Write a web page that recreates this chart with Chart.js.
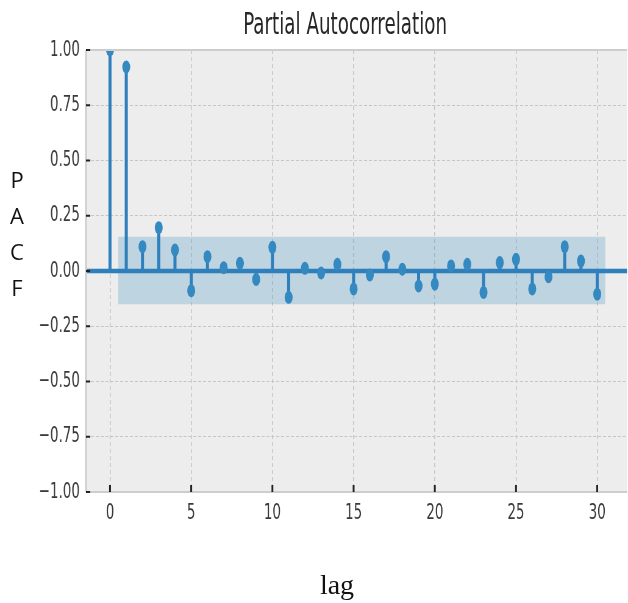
<!DOCTYPE html>
<html>
<head>
<meta charset="utf-8">
<script src="https://cdn.jsdelivr.net/npm/chart.js@4.4.0/dist/chart.umd.min.js"></script>
<style>
  html, body { margin: 0; padding: 0; background: #fff; }
  body { width: 628px; height: 603px; position: relative; overflow: hidden; }
  /* the source picture is squeezed sideways, so the plot is drawn wide and scaled */
  #wrap { position: absolute; left: 0; top: 0; width: 1035px; height: 603px;
          transform: scaleX(0.6097); transform-origin: 0 0; }
  #title { position: absolute; top: 6px; left: 0; width: 1132px; text-align: center;
           font: 30px "DejaVu Sans"; line-height: 36px; color: #262626; }
  #ylab { position: absolute; left: 6px; top: 161px; width: 22px; text-align: center;
          font: 22px "Open Sans"; line-height: 36px; color: #111; }
  #xlab { position: absolute; left: 0; top: 569px; width: 674px; text-align: center;
          font: 28px "Liberation Serif"; line-height: 32px; color: #111; }
</style>
</head>
<body>
<div id="wrap">
  <div id="title">Partial Autocorrelation</div>
  <canvas id="c" width="1035" height="603"></canvas>
</div>
<div id="ylab">P<br>A<br>C<br>F</div>
<div id="xlab">lag</div>
<script>
var lags = [0, 1, 2, 3, 4, 5, 6, 7, 8, 9, 10, 11, 12, 13, 14, 15, 16, 17, 18, 19, 20, 21, 22, 23, 24, 25, 26, 27, 28, 29, 30];
var pacf = [1.00, 0.923, 0.11, 0.196, 0.095, -0.089, 0.065, 0.015, 0.035, -0.038, 0.107,
            -0.119, 0.012, -0.009, 0.03, -0.081, -0.018, 0.065, 0.008, -0.068, -0.059,
            0.023, 0.03, -0.097, 0.038, 0.053, -0.081, -0.026, 0.11, 0.045, -0.105];
var bandLags = [0.5, 30.5];
var bandUpper = [0.155, 0.155];
var bandLower = [-0.15, -0.15];
var xTicks = [0, 5, 10, 15, 20, 25, 30];
var yTicks = [-1, -0.75, -0.5, -0.25, 0, 0.25, 0.5, 0.75, 1];
var xMin = -1.48, xMax = 31.84;

var stemColor = '#2f7fbd';
var dotColor = '#3589c1';

var stems = [];
lags.forEach(function (l, i) {
    stems.push({x: l, y: 0});
    stems.push({x: l, y: pacf[i]});
    stems.push({x: l, y: null});
});

var frame = {
    id: 'frame',
    beforeDraw: function (chart) {
        var a = chart.chartArea, ctx = chart.ctx;
        ctx.save();
        ctx.fillStyle = '#ededed';
        ctx.fillRect(a.left, a.top, a.right - a.left, a.bottom - a.top);
        ctx.restore();
    },
    afterDraw: function (chart) {
        var a = chart.chartArea, ctx = chart.ctx;
        var xs = chart.scales.x, ys = chart.scales.y;
        ctx.save();
        ctx.strokeStyle = '#cdcdcd';
        ctx.lineWidth = 2;
        ctx.beginPath();
        ctx.moveTo(a.left, a.top); ctx.lineTo(a.right, a.top);
        ctx.moveTo(a.left, a.bottom); ctx.lineTo(a.right, a.bottom);
        ctx.stroke();
        ctx.lineWidth = 3;
        ctx.beginPath();
        ctx.moveTo(a.left, a.top); ctx.lineTo(a.left, a.bottom);
        ctx.stroke();
        // inward tick marks
        ctx.strokeStyle = '#222';
        ctx.lineWidth = 2;
        ctx.beginPath();
        yTicks.forEach(function (v) {
            var p = ys.getPixelForValue(v);
            ctx.moveTo(a.left, p); ctx.lineTo(a.left + 7, p);
        });
        ctx.stroke();
        ctx.lineWidth = 3;
        ctx.beginPath();
        xTicks.forEach(function (v) {
            var p = xs.getPixelForValue(v);
            ctx.moveTo(p, a.bottom); ctx.lineTo(p, a.bottom - 7);
        });
        ctx.stroke();
        ctx.restore();
    }
};

var tickFont = {family: 'DejaVu Sans', size: 22};

new Chart(document.getElementById('c'), {
    type: 'line',
    data: {
        datasets: [
            {
                data: bandLags.map(function (x, i) { return {x: x, y: bandUpper[i]}; }),
                fill: '+1', backgroundColor: 'rgba(52,138,189,0.25)',
                borderWidth: 0, pointRadius: 0, order: 5
            },
            {
                data: bandLags.map(function (x, i) { return {x: x, y: bandLower[i]}; }),
                fill: false, borderWidth: 0, pointRadius: 0, order: 5
            },
            {
                data: stems, borderColor: stemColor, borderWidth: 5,
                pointRadius: 0, spanGaps: false, clip: 0, order: 3
            },
            {
                data: [{x: xMin, y: 0}, {x: xMax, y: 0}],
                borderColor: stemColor, borderWidth: 4.5, pointRadius: 0, order: 2
            },
            {
                data: lags.map(function (l, i) { return {x: l, y: pacf[i]}; }),
                showLine: false, pointRadius: 6.5, pointStyle: 'circle',
                pointBackgroundColor: dotColor, pointBorderWidth: 0, clip: 0, order: 1
            }
        ]
    },
    options: {
        responsive: false,
        animation: false,
        events: [],
        layout: {padding: {top: 50, left: 0, right: 0, bottom: 0}},
        plugins: {legend: {display: false}, tooltip: {enabled: false}, title: {display: false}},
        scales: {
            x: {
                type: 'linear', min: xMin, max: xMax,
                afterBuildTicks: function (s) { s.ticks = xTicks.map(function (v) { return {value: v}; }); },
                afterFit: function (s) { s.height = 111; },
                ticks: {font: tickFont, color: '#3a3a3a', padding: 8, maxRotation: 0,
                        callback: function (v) { return String(v); }},
                grid: {color: '#c6c6c6', lineWidth: 1.6, drawTicks: false},
                border: {display: false, dash: [4, 3]}
            },
            y: {
                type: 'linear', min: -1, max: 1,
                afterBuildTicks: function (s) { s.ticks = yTicks.map(function (v) { return {value: v}; }); },
                afterFit: function (s) { s.width = 141; },
                ticks: {font: tickFont, color: '#3a3a3a', padding: 10,
                        callback: function (v) { return (v < 0 ? '\u2212' : '') + Math.abs(v).toFixed(2); }},
                grid: {color: '#c6c6c6', lineWidth: 1, drawTicks: false},
                border: {display: false, dash: [5, 3]}
            }
        }
    },
    plugins: [frame]
});
</script>
</body>
</html>
